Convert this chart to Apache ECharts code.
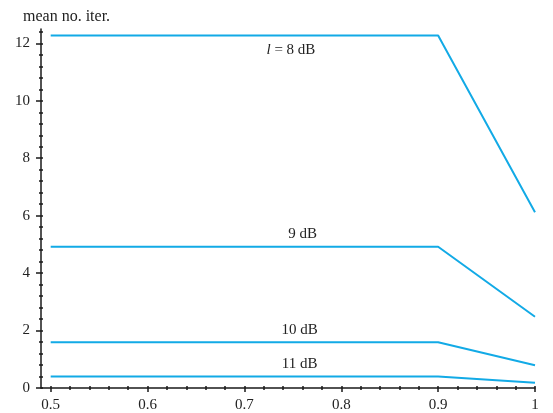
<!DOCTYPE html>
<html>
<head>
<meta charset="utf-8">
<script src="https://cdn.jsdelivr.net/npm/echarts@6/dist/echarts.min.js"></script>
<style>
  html, body { margin: 0; padding: 0; background: #fff; }
  #chart { width: 553px; height: 413px; }
</style>
</head>
<body>
<div id="chart"></div>
<script>
// values
const xValues = [0.5, 0.9, 1];
const iter8dB = [12.27, 12.27, 6.12];
const iter9dB = [4.92, 4.92, 2.48];
const iter10dB = [1.59, 1.59, 0.79];
const iter11dB = [0.40, 0.40, 0.18];

const curveLabels = ['{i|l} = 8 dB', '9 dB', '10 dB', '11 dB'];
const labelX = [0.748, 0.760, 0.757, 0.757];

const xMajorTicks = [0.5, 0.6, 0.7, 0.8, 0.9, 1];
const yMajorTicks = [0, 2, 4, 6, 8, 10, 12];

const xMinorTicks = [];
for (let i = 0; i <= 25; i++) xMinorTicks.push(+(0.5 + i * 0.02).toFixed(2));
const yMinorTicks = [];
for (let i = 0; i <= 31; i++) yMinorTicks.push(+(i * 0.4).toFixed(1));

const lineColor = '#12aae6';
const axisColor = '#1a1a1a';
const font = 'Liberation Serif';

const chart = echarts.init(document.getElementById('chart'));

const seriesData = [iter8dB, iter9dB, iter10dB, iter11dB];
const labelOffsets = [[0, 14], [0, -13], [0, -12], [0, -12]];

const series = seriesData.map((vals, k) => ({
  type: 'line',
  data: xValues.map((x, i) => [x, vals[i]]),
  showSymbol: false,
  symbol: 'none',
  lineStyle: { color: lineColor, width: 2 },
  markPoint: {
    symbol: 'circle',
    symbolSize: 0,
    silent: true,
    data: [{
      coord: [labelX[k], vals[0]],
      label: {
        show: true,
        position: 'inside',
        offset: labelOffsets[k],
        formatter: curveLabels[k],
        fontFamily: font,
        fontSize: 15,
        color: '#222',
        rich: { i: { fontFamily: font, fontStyle: 'italic', fontSize: 15, color: '#222' } }
      }
    }]
  }
}));

function xAxisLayer(opts) {
  return Object.assign({
    type: 'value', min: 0.49, max: 1, position: 'bottom',
    splitLine: { show: false },
    axisLine: { show: false },
    axisLabel: { show: false },
    axisTick: { show: false }
  }, opts);
}
function yAxisLayer(opts) {
  return Object.assign({
    type: 'value', min: 0, max: 12.5, position: 'left',
    splitLine: { show: false },
    axisLine: { show: false },
    axisLabel: { show: false },
    axisTick: { show: false }
  }, opts);
}

chart.setOption({
  animation: false,
  title: {
    text: 'mean no. iter.',
    left: 18, top: 4,
    textStyle: { fontFamily: font, fontSize: 16, fontWeight: 'normal', color: '#222' }
  },
  grid: { left: 41, right: 18, top: 29, bottom: 23 },
  xAxis: [
    xAxisLayer({
      axisLine: { show: true, onZero: false, lineStyle: { color: axisColor, width: 1.5 } },
      axisTick: { show: true, customValues: xMajorTicks, length: 4, lineStyle: { color: axisColor, width: 1.5 } },
      axisLabel: {
        show: true, customValues: xMajorTicks, margin: 10,
        fontFamily: font, fontSize: 15, color: '#222',
        formatter: v => String(+(+v).toFixed(2))
      }
    }),
    xAxisLayer({ axisTick: { show: true, inside: true, customValues: xMinorTicks, length: 2, lineStyle: { color: axisColor, width: 1.5 } } }),
    xAxisLayer({ axisTick: { show: true, customValues: xMinorTicks, length: 2, lineStyle: { color: axisColor, width: 1.5 } } })
  ],
  yAxis: [
    yAxisLayer({
      axisLine: { show: true, onZero: false, lineStyle: { color: axisColor, width: 1.5 } },
      axisTick: { show: true, customValues: yMajorTicks, length: 5, lineStyle: { color: axisColor, width: 1.5 } },
      axisLabel: {
        show: true, customValues: yMajorTicks, margin: 11,
        fontFamily: font, fontSize: 15, color: '#222'
      }
    }),
    yAxisLayer({ axisTick: { show: true, inside: true, customValues: yMinorTicks, length: 2, lineStyle: { color: axisColor, width: 1.5 } } }),
    yAxisLayer({ axisTick: { show: true, customValues: yMinorTicks, length: 2, lineStyle: { color: axisColor, width: 1.5 } } })
  ],
  series: series
});
</script>
</body>
</html>
